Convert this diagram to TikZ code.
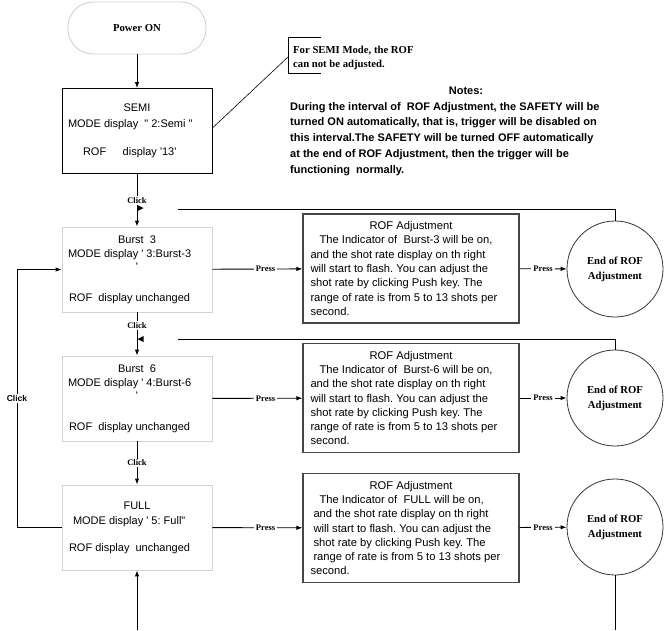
\documentclass[tikz,border=0pt]{standalone}
\usepackage{fontspec}
\setmainfont{Liberation Serif}
\newfontfamily\arial{Liberation Sans}
\usetikzlibrary{arrows.meta}
\newcommand\lline[1]{\makebox[201pt][l]{#1}}
\newcommand\mline[1]{\makebox[138pt][l]{#1}}
\frenchspacing
\begin{document}
\begin{tikzpicture}[x=1pt,y=-1pt,
  line/.style={line width=0.9pt},
  arr/.style={line width=0.9pt,-{Latex[length=6pt,width=4.5pt]}},
  modebox/.style={draw=gray!35,line width=0.9pt,minimum width=150pt,minimum height=85pt,align=center,inner sep=0pt,font=\arial\fontsize{11}{13}\selectfont},
  semibox/.style={modebox,draw=black},
  startbox/.style={draw=gray!35,line width=0.9pt,rounded corners=25pt,minimum width=138pt,minimum height=52pt,inner sep=0pt,font=\bfseries\fontsize{10.7}{13}\selectfont},
  rofbox/.style={draw=gray!55!black,line width=1.1pt,minimum width=216pt,minimum height=109pt,align=center,inner sep=0pt,font=\arial\fontsize{11.2}{14.3}\selectfont},
  endc/.style={circle,draw=black!80,line width=0.8pt,minimum size=96pt,inner sep=0pt,align=center,font=\bfseries\fontsize{10.7}{15}\selectfont},
  clk/.style={fill=white,inner sep=1.5pt,font=\bfseries\fontsize{8.5}{9}\selectfont},
  press/.style={fill=white,inner sep=2pt,font=\bfseries\fontsize{8.5}{9}\selectfont},
  lclk/.style={fill=white,inner sep=1.5pt,font=\arial\bfseries\fontsize{8.5}{9}\selectfont},
  note/.style={inner sep=0pt,align=left,font=\bfseries\fontsize{10.7}{14}\selectfont},
  notes/.style={inner sep=0pt,align=left,font=\arial\bfseries\fontsize{11}{15.8}\selectfont},
]
\useasboundingbox (0,0) rectangle (670,630);

% main column
\node[startbox] (power) at (137,28) {Power ON};
\node[semibox] (semi) at (137,131) {SEMI\\[3pt]\mline{MODE display\ \ \textquotedbl\ 2:Semi\ \textquotedbl}\\[15pt]\mline{\hspace*{15pt}ROF\hspace{1.5em}display \textquotesingle 13\textquotesingle}};
\node[modebox] (b3) at (137,269.5) {Burst\ \ 3\\[1pt]\mline{MODE display \textquotesingle\ 3:Burst-3}\\\textquotesingle\\[18pt]\mline{\hspace*{1pt}ROF\ \ display unchanged}};
\node[modebox] (b6) at (137,398.5) {Burst\ \ 6\\[1pt]\mline{MODE display \textquotesingle\ 4:Burst-6}\\\textquotesingle\\[18pt]\mline{\hspace*{1pt}ROF\ \ display unchanged}};
\node[modebox] (full) at (137,527.5) {FULL\\[2pt]\mline{\hspace*{5pt}MODE display \textquotesingle\ 5: Full\textquotedbl}\\[14pt]\mline{\hspace*{1pt}ROF display\ \ unchanged}};

% ROF adjustment boxes
\node[rofbox] (r1) at (411,268.5) {ROF Adjustment\\
\lline{\hspace*{9pt}The Indicator of\ \ Burst-3 will be on,}\\
\lline{and the shot rate display on th right}\\
\lline{will start to flash. You can adjust the}\\
\lline{shot rate by clicking Push key. The}\\
\lline{range of rate is from 5 to 13 shots per}\\
\lline{second.}};
\node[rofbox] (r2) at (411,398) {ROF Adjustment\\
\lline{\hspace*{9pt}The Indicator of\ \ Burst-6 will be on,}\\
\lline{and the shot rate display on th right}\\
\lline{will start to flash. You can adjust the}\\
\lline{shot rate by clicking Push key. The}\\
\lline{range of rate is from 5 to 13 shots per}\\
\lline{second.}};
\node[rofbox] (r3) at (411,528) {ROF Adjustment\\
\lline{\hspace*{9pt}The Indicator of\ \ FULL will be on,}\\
\lline{\hspace*{3pt}and the shot rate display on th right}\\
\lline{\hspace*{3pt}will start to flash. You can adjust the}\\
\lline{\hspace*{3pt}shot rate by clicking Push key. The}\\
\lline{\hspace*{3pt}range of rate is from 5 to 13 shots per}\\
\lline{second.}};

% end circles
\node[endc] (c1) at (615,269) {End of ROF\\Adjustment};
\node[endc] (c2) at (615,398) {End of ROF\\Adjustment};
\node[endc] (c3) at (615,527) {End of ROF\\Adjustment};

% callout and notes
\node[note,anchor=north west] (callout) at (293,45.7) {For SEMI Mode, the ROF\\can not be adjusted.};
\node[notes,anchor=base] (notestitle) at (466,94) {Notes:};
\node[notes,anchor=north west] (notesbody) at (290,102) {During the interval of\ \ ROF Adjustment, the SAFETY will be\\
turned ON automatically, that is, trigger will be disabled on\\
this interval.The SAFETY will be turned OFF automatically\\
at the end of ROF Adjustment, then the trigger will be\\
functioning\ \ normally.};

\coordinate (cbt) at (321,37);
\coordinate (cbl) at (288,37);
\coordinate (cbm) at (288,57);
\coordinate (cbd) at (288,73);
\coordinate (cbb) at (321,73);
\draw[line,line width=0.6pt] (semi.east) ++(0,-3) -- (cbm);
\draw[line] (cbt) -- (cbl) -- (cbd) -- (cbb);

% vertical flow
\draw[arr] (power) -- (semi);
\draw[arr] (semi) -- node[clk]{Click} (b3);
\draw[arr] (b3) -- node[clk,pos=0.3]{Click} (b6);
\draw[arr] (b6) -- node[clk]{Click} (full);

% press arrows
\draw[arr] (b3) -- node[press,pos=0.59]{Press} (r1);
\draw[arr] (b6) -- node[press,pos=0.59]{Press} (r2);
\draw[arr] (full) -- node[press,pos=0.59]{Press} (r3);
\draw[arr] (r1) -- node[press]{Press} (c1);
\draw[arr] (r2) -- node[press]{Press} (c2);
\draw[arr] (r3) -- node[press]{Press} (c3);

% return lines
\coordinate (ret1) at (178,209);
\coordinate (ret2) at (178,339);
\draw[line] (c1.north) |- (ret1);
\draw[line] (c2.north) |- (ret2);
\fill (137.5,205) -- (143.5,208) -- (137.5,211) -- cycle;
\fill (137.5,339) -- (143.5,336) -- (143.5,342) -- cycle;
\coordinate (bot3) at (615,630);
\draw[line] (c3.south) -- (bot3);
\coordinate (botin) at (137,630);
\draw[arr] (botin) -- (full.south);

% left loop
\coordinate (lb) at (17,527.5);
\coordinate (lt) at (17,269.5);
\draw[arr] (full.west) -- (lb) -- node[lclk]{Click} (lt) -- (b3.west);
\end{tikzpicture}
\end{document}
